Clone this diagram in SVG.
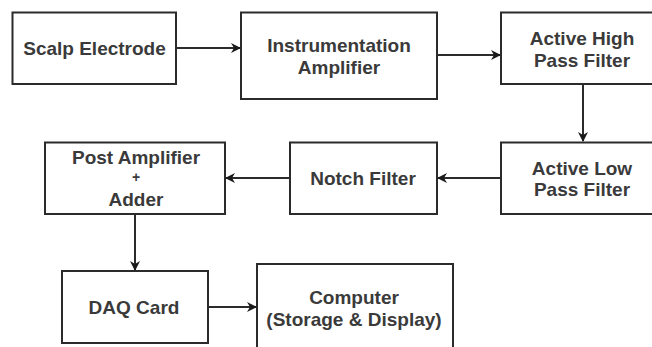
<svg xmlns="http://www.w3.org/2000/svg" width="652" height="347" viewBox="0 0 652 347">
  <style>
    .box { fill: #ffffff; stroke: #2b2b2b; stroke-width: 2; }
    .lbl { font-family: "Liberation Sans", Arial, sans-serif; font-size: 19px; font-weight: bold; fill: #3a3a3a; text-anchor: middle; dominant-baseline: central; }
    .edge { fill: none; stroke: #2b2b2b; stroke-width: 2; }
  </style>
  <defs>
    <marker id="arrow" viewBox="0 0 10 10" refX="9" refY="5" markerWidth="5" markerHeight="5" markerUnits="strokeWidth" orient="auto">
      <path d="M0,0 L10,5 L0,10 L3,5 Z" fill="#1a1a1a"/>
    </marker>
  </defs>
  <rect width="652" height="347" fill="#ffffff"/>

  <g id="connectors">
    <line class="edge" x1="176" y1="48" x2="240" y2="48" marker-end="url(#arrow)"/>
    <line class="edge" x1="437" y1="55" x2="500" y2="55" marker-end="url(#arrow)"/>
    <line class="edge" x1="583" y1="84" x2="583" y2="141" marker-end="url(#arrow)"/>
    <line class="edge" x1="501" y1="178" x2="438" y2="178" marker-end="url(#arrow)"/>
    <line class="edge" x1="290" y1="178" x2="226" y2="178" marker-end="url(#arrow)"/>
    <line class="edge" x1="135" y1="214" x2="135" y2="270" marker-end="url(#arrow)"/>
    <line class="edge" x1="208" y1="307" x2="256" y2="307" marker-end="url(#arrow)"/>
  </g>

  <g id="scalp-electrode">
    <rect class="box" x="12.5" y="12.5" width="163.5" height="71.5"/>
    <text class="lbl" x="94.5" y="48">Scalp Electrode</text>
  </g>

  <g id="instrumentation-amplifier">
    <rect class="box" x="241" y="12.5" width="196" height="86.5"/>
    <text class="lbl" x="339" y="45">Instrumentation</text>
    <text class="lbl" x="339" y="67">Amplifier</text>
  </g>

  <g id="active-high-pass">
    <rect class="box" x="501" y="12.5" width="160" height="71.5"/>
    <text class="lbl" x="582" y="38">Active High</text>
    <text class="lbl" x="582" y="60">Pass Filter</text>
  </g>

  <g id="active-low-pass">
    <rect class="box" x="501" y="142.5" width="160" height="71.5"/>
    <text class="lbl" x="582" y="168">Active Low</text>
    <text class="lbl" x="582" y="189">Pass Filter</text>
  </g>

  <g id="notch-filter">
    <rect class="box" x="290" y="142.5" width="147" height="71.5"/>
    <text class="lbl" x="363" y="178">Notch Filter</text>
  </g>

  <g id="post-amplifier-adder">
    <rect class="box" x="45" y="142.5" width="180" height="71.5"/>
    <text class="lbl" x="136" y="157">Post Amplifier</text>
    <text class="lbl" x="136" y="177" style="font-size:14px">+</text>
    <text class="lbl" x="136" y="199">Adder</text>
  </g>

  <g id="daq-card">
    <rect class="box" x="62" y="271" width="146" height="72"/>
    <text class="lbl" x="134" y="307">DAQ Card</text>
  </g>

  <g id="computer">
    <rect class="box" x="257" y="264" width="196" height="95"/>
    <text class="lbl" x="354" y="297">Computer</text>
    <text class="lbl" x="354" y="319">(Storage &amp; Display)</text>
  </g>
</svg>
